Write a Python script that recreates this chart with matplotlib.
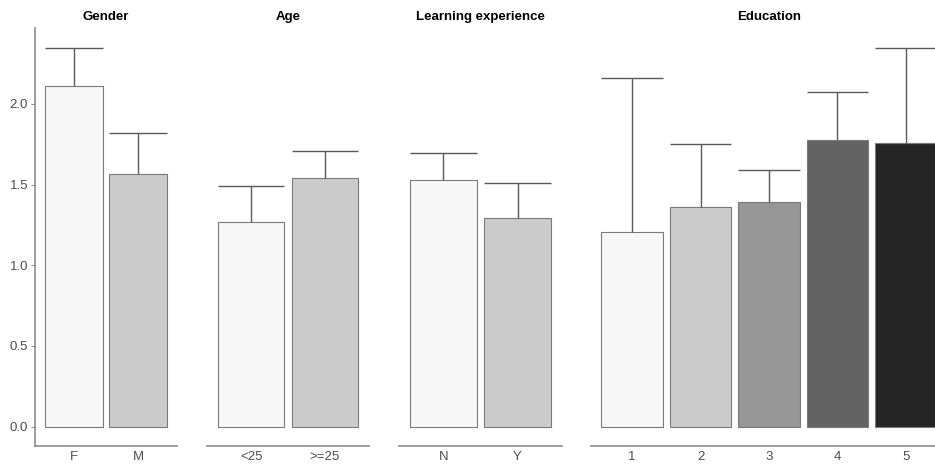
import matplotlib
matplotlib.use("Agg")
import matplotlib.pyplot as plt

titles = ["Gender", "Age", "Learning experience", "Education"]
categories = [["F", "M"], ["<25", ">=25"], ["N", "Y"], ["1", "2", "3", "4", "5"]]
means = [[2.108, 1.568], [1.270, 1.543], [1.530, 1.294], [1.209, 1.363, 1.394, 1.774, 1.757]]
upper = [[2.347, 1.817], [1.493, 1.710], [1.698, 1.512], [2.160, 1.751, 1.590, 2.073, 2.347]]
fills = [["#F7F7F7", "#CCCCCC"], ["#F7F7F7", "#CCCCCC"], ["#F7F7F7", "#CCCCCC"],
         ["#F7F7F7", "#CCCCCC", "#969696", "#636363", "#252525"]]
yticks = [0.0, 0.5, 1.0, 1.5, 2.0]
ytick_labels = ["0.0", "0.5", "1.0", "1.5", "2.0"]

W, H = 935, 465
fig = plt.figure(figsize=(W / 100, H / 100), dpi=100)
plt.rcParams['font.family'] = ['Liberation Sans', 'DejaVu Sans']

panels_px = [(35, 142), (207, 162), (399, 163), (591, 356)]
top_px, bot_px = 28.3, 445.7
ylim = (-0.1175, 2.4675)
bw = 0.9

for i, (left, width) in enumerate(panels_px):
    ax = fig.add_axes([left / W, (H - bot_px) / H, width / W, (bot_px - top_px) / H])
    n = len(categories[i])
    xs = list(range(n))
    ax.bar(xs, means[i], width=bw, color=fills[i], edgecolor="#7a7a7a", linewidth=0.8, zorder=2)
    ax.vlines(xs, means[i], upper[i], color="#5a5a5a", linewidth=1.0, zorder=3)
    ax.hlines(upper[i], [x - bw / 2 for x in xs], [x + bw / 2 for x in xs],
              color="#5a5a5a", linewidth=1.0, zorder=3)
    ax.set_xlim(-0.6, n - 1 + 0.6)
    ax.set_ylim(*ylim)
    ax.set_xticks(xs)
    ax.set_xticklabels(categories[i], fontsize=9.5, color="#4d4d4d")
    ax.tick_params(axis="x", length=0, pad=4)
    for s in ["top", "right"]:
        ax.spines[s].set_visible(False)
    ax.spines["bottom"].set_color("#8c8c8c")
    ax.spines["bottom"].set_linewidth(1.2)
    if i == 0:
        ax.spines["left"].set_color("#8c8c8c")
        ax.spines["left"].set_linewidth(1.2)
        ax.set_yticks(yticks)
        ax.set_yticklabels(ytick_labels, fontsize=9.5, color="#4d4d4d")
        ax.tick_params(axis="y", length=3, width=0.8, color="#8c8c8c", pad=2)
    else:
        ax.spines["left"].set_visible(False)
        ax.set_yticks([])
    ax.set_facecolor("none")
    ax.set_title(titles[i], fontsize=9.5, fontweight="bold", pad=6)

fig.savefig("out.png", dpi=100)
